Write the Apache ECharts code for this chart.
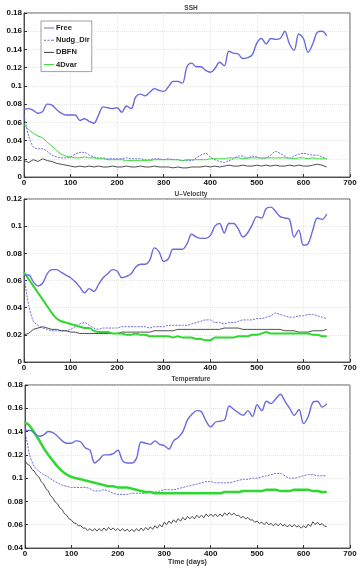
<!DOCTYPE html>
<html>
<head>
<meta charset="utf-8">
<script src="https://cdn.jsdelivr.net/npm/echarts@6/dist/echarts.min.js"></script>
<style>
  html, body { margin: 0; padding: 0; background: #fff; }
  #chart { width: 360px; height: 569px; }
</style>
</head>
<body>
<div id="chart"></div>
<script>
// x values (days)
const days = [0, 10, 20, 30, 40, 50, 60, 70, 80, 90, 100, 110, 120, 130, 140, 150, 160, 170, 180, 190,
  200, 210, 220, 230, 240, 250, 260, 270, 280, 290, 300, 310, 320, 330, 340, 350, 360, 370, 380, 390,
  400, 410, 420, 430, 440, 450, 460, 470, 480, 490, 500, 510, 520, 530, 540, 550, 560, 570, 580, 590,
  600, 610, 620, 630, 640, 650]
const days5 = [0, 5, 10, 15, 20, 25, 30, 35, 40, 45, 50, 55, 60, 65, 70, 75, 80, 85, 90, 95,
  100, 105, 110, 115, 120, 125, 130, 135, 140, 145, 150, 155, 160, 165, 170, 175, 180, 185, 190, 195,
  200, 205, 210, 215, 220, 225, 230, 235, 240, 245, 250, 255, 260, 265, 270, 275, 280, 285, 290, 295,
  300, 305, 310, 315, 320, 325, 330, 335, 340, 345, 350, 355, 360, 365, 370, 375, 380, 385, 390, 395,
  400, 405, 410, 415, 420, 425, 430, 435, 440, 445, 450, 455, 460, 465, 470, 475, 480, 485, 490, 495,
  500, 505, 510, 515, 520, 525, 530, 535, 540, 545, 550, 555, 560, 565, 570, 575, 580, 585, 590, 595,
  600, 605, 610, 615, 620, 625, 630, 635, 640, 645, 650]

// SSH
const sshFree = [0.074, 0.075, 0.073, 0.070, 0.072, 0.080, 0.079, 0.074, 0.070, 0.068, 0.068, 0.068, 0.062, 0.064, 0.061, 0.059, 0.068, 0.077, 0.076, 0.075,
  0.076, 0.071, 0.078, 0.075, 0.088, 0.091, 0.089, 0.093, 0.097, 0.095, 0.094, 0.099, 0.105, 0.105, 0.103, 0.121, 0.125, 0.121, 0.121, 0.117,
  0.115, 0.119, 0.126, 0.122, 0.138, 0.136, 0.135, 0.130, 0.131, 0.134, 0.147, 0.152, 0.146, 0.152, 0.151, 0.152, 0.160, 0.146, 0.139, 0.157,
  0.152, 0.137, 0.146, 0.159, 0.160, 0.155]
const sshNudg = [0.068, 0.045, 0.033, 0.031, 0.031, 0.028, 0.024, 0.022, 0.021, 0.021, 0.022, 0.025, 0.027, 0.027, 0.024, 0.022, 0.021, 0.021, 0.020, 0.020,
  0.020, 0.020, 0.021, 0.020, 0.020, 0.020, 0.019, 0.019, 0.020, 0.020, 0.019, 0.020, 0.019, 0.019, 0.018, 0.018, 0.018, 0.021, 0.024, 0.026,
  0.022, 0.019, 0.017, 0.016, 0.018, 0.020, 0.023, 0.023, 0.020, 0.023, 0.022, 0.020, 0.021, 0.024, 0.028, 0.026, 0.023, 0.020, 0.023, 0.025,
  0.026, 0.025, 0.024, 0.024, 0.022, 0.020]
const sshDbfn = [0.018, 0.016, 0.019, 0.017, 0.020, 0.018, 0.017, 0.015, 0.014, 0.013, 0.012, 0.011, 0.012, 0.011, 0.012, 0.011, 0.012, 0.011, 0.011, 0.012,
  0.011, 0.011, 0.012, 0.011, 0.011, 0.012, 0.011, 0.011, 0.012, 0.011, 0.011, 0.011, 0.010, 0.011, 0.010, 0.010, 0.011, 0.011, 0.011, 0.012,
  0.011, 0.012, 0.011, 0.012, 0.013, 0.012, 0.012, 0.013, 0.012, 0.012, 0.013, 0.012, 0.013, 0.012, 0.013, 0.012, 0.012, 0.013, 0.012, 0.013,
  0.012, 0.012, 0.013, 0.014, 0.013, 0.011]
const ssh4dvar = [0.058, 0.052, 0.048, 0.045, 0.043, 0.038, 0.034, 0.029, 0.025, 0.023, 0.022, 0.021, 0.021, 0.022, 0.021, 0.021, 0.020, 0.020, 0.019, 0.019,
  0.019, 0.019, 0.018, 0.018, 0.018, 0.018, 0.018, 0.018, 0.019, 0.019, 0.019, 0.019, 0.019, 0.019, 0.018, 0.019, 0.019, 0.019, 0.019, 0.019,
  0.020, 0.020, 0.020, 0.020, 0.021, 0.021, 0.021, 0.020, 0.021, 0.021, 0.021, 0.021, 0.021, 0.021, 0.021, 0.021, 0.021, 0.021, 0.020, 0.021,
  0.021, 0.020, 0.021, 0.020, 0.020, 0.020]

// U-Velocity
const uFree = [0.064, 0.064, 0.059, 0.056, 0.058, 0.065, 0.068, 0.068, 0.066, 0.064, 0.062, 0.059, 0.055, 0.051, 0.054, 0.052, 0.057, 0.062, 0.065, 0.068,
  0.067, 0.062, 0.063, 0.065, 0.070, 0.072, 0.072, 0.075, 0.084, 0.081, 0.074, 0.076, 0.083, 0.083, 0.083, 0.087, 0.094, 0.092, 0.091, 0.091,
  0.093, 0.100, 0.102, 0.095, 0.102, 0.102, 0.098, 0.092, 0.095, 0.101, 0.107, 0.106, 0.113, 0.114, 0.111, 0.107, 0.106, 0.105, 0.092, 0.097,
  0.086, 0.087, 0.097, 0.106, 0.105, 0.109]
const uNudg = [0.063, 0.042, 0.030, 0.027, 0.025, 0.024, 0.023, 0.023, 0.023, 0.023, 0.024, 0.026, 0.028, 0.029, 0.027, 0.025, 0.024, 0.025, 0.025, 0.025,
  0.025, 0.026, 0.026, 0.026, 0.026, 0.026, 0.026, 0.025, 0.026, 0.026, 0.026, 0.027, 0.027, 0.027, 0.027, 0.027, 0.028, 0.029, 0.030, 0.031,
  0.031, 0.029, 0.029, 0.028, 0.029, 0.029, 0.030, 0.031, 0.031, 0.031, 0.032, 0.032, 0.033, 0.034, 0.036, 0.035, 0.034, 0.033, 0.033, 0.034,
  0.034, 0.035, 0.035, 0.034, 0.033, 0.032]
const uDbfn = [0.020, 0.021, 0.024, 0.025, 0.026, 0.025, 0.024, 0.024, 0.023, 0.023, 0.022, 0.022, 0.021, 0.021, 0.021, 0.021, 0.021, 0.021, 0.021, 0.021,
  0.021, 0.022, 0.022, 0.022, 0.022, 0.022, 0.022, 0.022, 0.023, 0.023, 0.023, 0.023, 0.023, 0.024, 0.024, 0.024, 0.024, 0.024, 0.024, 0.024,
  0.024, 0.024, 0.024, 0.025, 0.025, 0.025, 0.025, 0.024, 0.024, 0.024, 0.024, 0.024, 0.024, 0.024, 0.024, 0.024, 0.023, 0.023, 0.023, 0.022,
  0.022, 0.022, 0.023, 0.023, 0.023, 0.024]
const u4dvar = [0.066, 0.061, 0.056, 0.051, 0.046, 0.041, 0.036, 0.032, 0.030, 0.029, 0.028, 0.027, 0.026, 0.025, 0.025, 0.023, 0.022, 0.022, 0.022, 0.021,
  0.021, 0.021, 0.020, 0.020, 0.021, 0.020, 0.020, 0.019, 0.019, 0.019, 0.019, 0.019, 0.018, 0.019, 0.018, 0.018, 0.018, 0.017, 0.017, 0.016,
  0.016, 0.018, 0.018, 0.018, 0.018, 0.018, 0.019, 0.019, 0.019, 0.020, 0.020, 0.021, 0.022, 0.021, 0.021, 0.021, 0.021, 0.021, 0.021, 0.021,
  0.021, 0.021, 0.020, 0.020, 0.019, 0.019]

// Temperature
const tFree = [0.141, 0.141, 0.139, 0.136, 0.137, 0.140, 0.139, 0.136, 0.132, 0.130, 0.130, 0.132, 0.131, 0.126, 0.124, 0.113, 0.116, 0.120, 0.120, 0.121,
  0.124, 0.115, 0.113, 0.113, 0.117, 0.131, 0.130, 0.129, 0.132, 0.129, 0.128, 0.125, 0.132, 0.135, 0.140, 0.150, 0.155, 0.158, 0.157, 0.149,
  0.144, 0.148, 0.149, 0.150, 0.162, 0.159, 0.156, 0.154, 0.158, 0.153, 0.163, 0.158, 0.166, 0.164, 0.168, 0.172, 0.166, 0.160, 0.154, 0.159,
  0.147, 0.153, 0.165, 0.166, 0.161, 0.164]
const tNudg = [0.141, 0.120, 0.110, 0.106, 0.103, 0.101, 0.098, 0.096, 0.094, 0.093, 0.092, 0.092, 0.092, 0.092, 0.091, 0.089, 0.089, 0.090, 0.089, 0.087,
  0.086, 0.086, 0.086, 0.087, 0.087, 0.087, 0.087, 0.088, 0.088, 0.089, 0.090, 0.090, 0.090, 0.091, 0.092, 0.093, 0.094, 0.095, 0.096, 0.097,
  0.097, 0.096, 0.096, 0.096, 0.096, 0.097, 0.098, 0.099, 0.099, 0.100, 0.100, 0.101, 0.102, 0.103, 0.104, 0.104, 0.102, 0.100, 0.100, 0.101,
  0.102, 0.103, 0.103, 0.102, 0.102, 0.102]
const tDbfn = [0.1150, 0.1120, 0.1110, 0.1075, 0.1060, 0.1025, 0.1010, 0.0970, 0.0950, 0.0910, 0.0890, 0.0850, 0.0830, 0.0795, 0.0780, 0.0745, 0.0730, 0.0695, 0.0680, 0.0650,
  0.0640, 0.0615, 0.0612, 0.0590, 0.0592, 0.0570, 0.0572, 0.0550, 0.0567, 0.0545, 0.0567, 0.0545, 0.0567, 0.0545, 0.0572, 0.0550, 0.0577, 0.0555, 0.0572, 0.0550,
  0.0567, 0.0545, 0.0567, 0.0545, 0.0562, 0.0540, 0.0562, 0.0540, 0.0567, 0.0545, 0.0572, 0.0550, 0.0577, 0.0555, 0.0582, 0.0560, 0.0592, 0.0570, 0.0602, 0.0580,
  0.0622, 0.0600, 0.0632, 0.0610, 0.0642, 0.0620, 0.0652, 0.0630, 0.0662, 0.0640, 0.0672, 0.0650, 0.0672, 0.0650, 0.0682, 0.0660, 0.0682, 0.0660, 0.0692, 0.0670,
  0.0692, 0.0670, 0.0692, 0.0670, 0.0692, 0.0670, 0.0702, 0.0680, 0.0704, 0.0682, 0.0700, 0.0678, 0.0682, 0.0660, 0.0672, 0.0650, 0.0662, 0.0640, 0.0642, 0.0620,
  0.0632, 0.0610, 0.0622, 0.0600, 0.0622, 0.0600, 0.0612, 0.0590, 0.0612, 0.0590, 0.0612, 0.0590, 0.0602, 0.0580, 0.0602, 0.0580, 0.0602, 0.0580, 0.0592, 0.0570,
  0.0592, 0.0572, 0.0605, 0.0585, 0.0625, 0.0600, 0.0622, 0.0598, 0.0610, 0.0588, 0.0585]
const t4dvar = [0.148, 0.145, 0.139, 0.133, 0.126, 0.120, 0.115, 0.110, 0.106, 0.103, 0.101, 0.100, 0.099, 0.098, 0.097, 0.096, 0.095, 0.094, 0.093, 0.093,
  0.092, 0.092, 0.092, 0.091, 0.090, 0.089, 0.088, 0.088, 0.087, 0.087, 0.087, 0.087, 0.087, 0.087, 0.087, 0.087, 0.087, 0.087, 0.087, 0.087,
  0.087, 0.087, 0.087, 0.088, 0.088, 0.088, 0.088, 0.089, 0.089, 0.089, 0.089, 0.089, 0.090, 0.090, 0.090, 0.089, 0.089, 0.089, 0.090, 0.090,
  0.090, 0.090, 0.089, 0.089, 0.088, 0.088]

const names = ['Free', 'Nudg_Dir', 'DBFN', '4Dvar']
const panelTitles = ['SSH', 'U\u2013Velocity', 'Temperature']
const yNames = ['RMS error (m)', 'RMS error (m/s)', 'RMS error (\u00baC)']

const blue = '#6a6ae0'
const green = '#2ed82e'
const dark = '#3a3a3a'
const font = 'Liberation Sans, Arial, sans-serif'

const grids = [
  { left: 24, right: 10, top: 13, height: 164 },
  { left: 24, right: 10, top: 199, height: 163 },
  { left: 25, right: 10, top: 385, height: 163 }
]
const yRanges = [[0, 0.18], [0, 0.12], [0.04, 0.18]]

// legend icons: short line, dashed for Nudg_Dir
const solidIcon = 'path://M0,0 H10 V1 H0 Z'
const dashIcon = 'path://M0,0 H2 V1 H0 Z M3.5,0 H5.5 V1 H3.5 Z M7,0 H10 V1 H7 Z'
const legendColors = [blue, blue, dark, green]

function pairs(xs, ys) {
  return xs.map((x, i) => [x, ys[i]])
}

const chart = echarts.init(document.getElementById('chart'))

const xAxis = grids.map((g, i) => ({
  gridIndex: i,
  type: 'value',
  min: 0,
  max: 700,
  interval: 100,
  name: i === 2 ? 'Time (days)' : '',
  nameLocation: 'middle',
  nameGap: 11,
  nameTextStyle: { fontSize: 7, fontWeight: 'bold', color: '#333', fontFamily: font },
  axisLine: { lineStyle: { color: '#333', width: 0.8 } },
  axisTick: { inside: true, length: 3, lineStyle: { color: '#333' } },
  axisLabel: { fontSize: 8, fontWeight: 'bold', color: '#111', margin: 2, fontFamily: font },
  splitLine: { show: true, lineStyle: { color: '#d8d8d8', type: [1, 1], width: 0.6 } }
}))

const yAxis = grids.map((g, i) => ({
  gridIndex: i,
  type: 'value',
  min: yRanges[i][0],
  max: yRanges[i][1],
  interval: 0.02,
  name: yNames[i],
  nameLocation: 'middle',
  nameGap: 18,
  nameRotate: 90,
  nameTextStyle: { fontSize: 5.5, color: '#333', fontFamily: font },
  axisLine: { show: true, lineStyle: { color: '#333', width: 0.8 } },
  axisTick: { inside: true, length: 3, lineStyle: { color: '#333' } },
  axisLabel: {
    fontSize: 8, fontWeight: 'bold', color: '#111', margin: 2, fontFamily: font,
    formatter: v => String(Math.round(v * 100) / 100)
  },
  splitLine: { show: true, lineStyle: { color: '#d8d8d8', type: [1, 1], width: 0.6 } }
}))

const panelData = [
  [sshFree, sshNudg, sshDbfn, ssh4dvar],
  [uFree, uNudg, uDbfn, u4dvar],
  [tFree, tNudg, tDbfn, t4dvar]
]
const greenWidth = [1, 2, 2.5]

const series = []
panelData.forEach((set, i) => {
  series.push({
    name: names[0], type: 'line', xAxisIndex: i, yAxisIndex: i,
    data: pairs(days, set[0]), smooth: 0.35, symbol: 'none',
    lineStyle: { color: blue, width: 1.4 }, itemStyle: { color: blue }, z: 3
  })
  series.push({
    name: names[1], type: 'line', xAxisIndex: i, yAxisIndex: i,
    data: pairs(days, set[1]), smooth: 0.3, symbol: 'none',
    lineStyle: { color: blue, width: 1, type: [2, 1.2] }, itemStyle: { color: blue }, z: 2
  })
  series.push({
    name: names[2], type: 'line', xAxisIndex: i, yAxisIndex: i,
    data: pairs(i === 2 ? days5 : days, set[2]), symbol: 'none',
    lineStyle: { color: dark, width: 0.9 }, itemStyle: { color: dark }, z: 2
  })
  series.push({
    name: names[3], type: 'line', xAxisIndex: i, yAxisIndex: i,
    data: pairs(days, set[3]), smooth: 0.2, symbol: 'none',
    lineStyle: { color: green, width: greenWidth[i] }, itemStyle: { color: green }, z: 2
  })
})

chart.setOption({
  animation: false,
  backgroundColor: '#fff',
  title: panelTitles.map((t, i) => ({
    text: t,
    left: 186,
    textAlign: 'center',
    top: [0, 186, 371][i],
    textStyle: { fontSize: 6.5, fontWeight: 'bold', color: '#444', fontFamily: font }
  })),
  grid: grids.map(g => Object.assign({
    show: true, borderColor: '#333', borderWidth: 0.8, backgroundColor: 'transparent',
    containLabel: false, outerBoundsMode: 'none'
  }, g)),
  legend: {
    data: names.map((n, k) => ({
      name: n,
      icon: k === 1 ? dashIcon : solidIcon,
      itemStyle: { color: legendColors[k], borderWidth: 0 }
    })),
    orient: 'vertical',
    left: 41,
    top: 21,
    itemWidth: 10,
    itemHeight: 1.6,
    itemGap: 4.2,
    padding: [3, 2, 3, 3],
    borderColor: '#888',
    borderWidth: 0.8,
    backgroundColor: '#fff',
    textStyle: { fontSize: 7.5, fontWeight: 'bold', color: '#222', fontFamily: font, padding: [0, 0, 0, -3] }
  },
  xAxis: xAxis,
  yAxis: yAxis,
  series: series
})
</script>
</body>
</html>
